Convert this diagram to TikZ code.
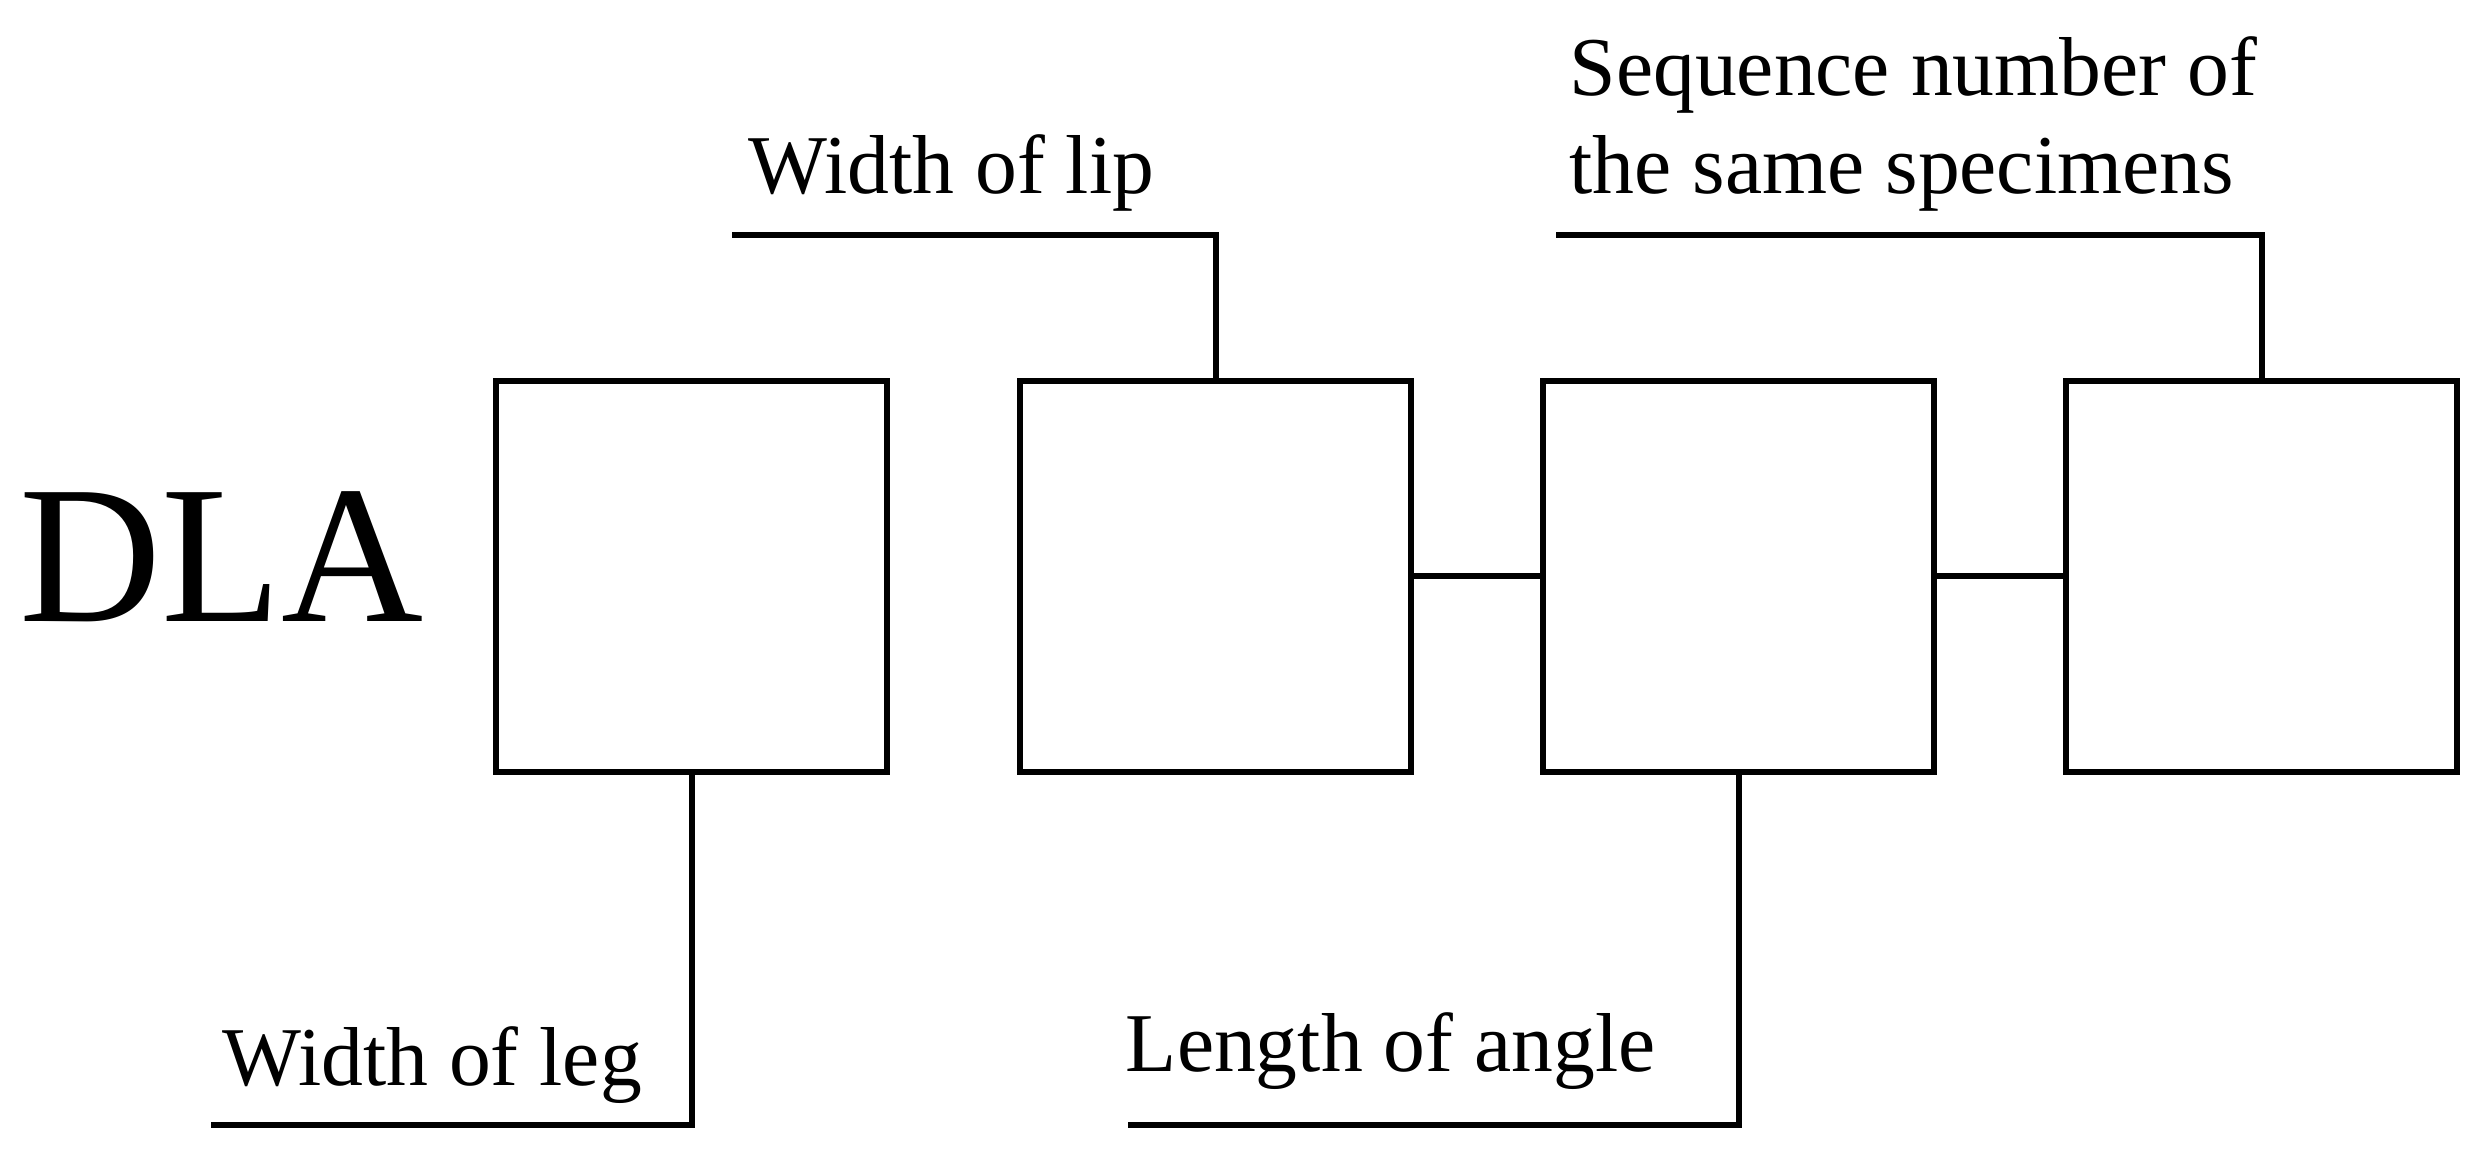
\documentclass[tikz,border=0pt]{standalone}
\usepackage{fontspec}
\setmainfont{Liberation Serif}
\usetikzlibrary{positioning}
\tikzstyle{field} = [rectangle, draw=black, line width=1.7pt, minimum width=3.91cm, minimum height=3.91cm, inner sep=0pt]
\tikzstyle{lbl} = [font=\fontsize{23.8}{28}\selectfont, inner sep=0pt, anchor=south west, align=left]
\tikzstyle{leader} = [line width=1.7pt]

\begin{document}
\begin{tikzpicture}[x=0.01585cm, y=-0.01585cm]
\useasboundingbox (0,0) rectangle (1568,730);

\node (dla) [font=\fontsize{56}{62}\selectfont, inner sep=0pt, anchor=base west] at (12,392) {DLA};

\node (leg) [field] at (436.5,363.5) {};
\node (lip) [field] at (767,363.5) {};
\node (angle) [field] at (1097,363.5) {};
\node (seq) [field] at (1427,363.5) {};

\coordinate (legEnd) at (133,710);
\coordinate (lipEnd) at (462,148);
\coordinate (angleEnd) at (712,710);
\coordinate (seqEnd) at (982,148);

\node (legTxt) [lbl] at (140,697) {Width of leg};
\node (lipTxt) [lbl] at (472,134) {Width of lip};
\node (angleTxt) [lbl] at (710,688) {Length of angle};
\node (seqTxt) [lbl] at (990,134) {Sequence number of\\the same specimens};

\draw [leader] (lip) -- (angle);
\draw [leader] (angle) -- (seq);
\draw [leader] (leg.south) |- (legEnd);
\draw [leader] (lip.north) |- (lipEnd);
\draw [leader] (angle.south) |- (angleEnd);
\draw [leader] (seq.north) |- (seqEnd);

\end{tikzpicture}
\end{document}
